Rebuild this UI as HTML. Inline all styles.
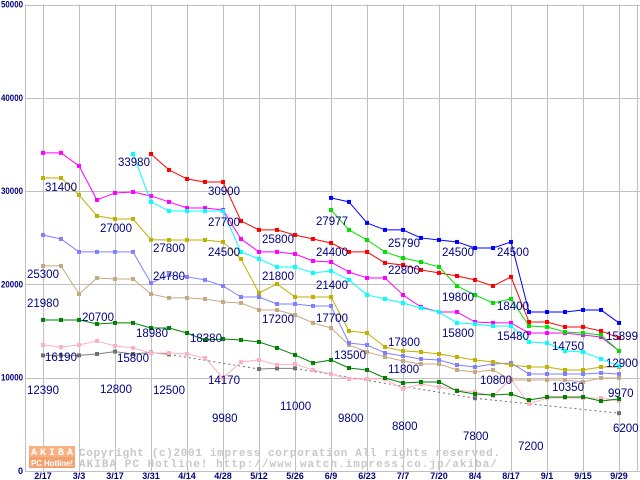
<!DOCTYPE html>
<html><head><meta charset="utf-8"><title>Price chart</title>
<style>
html,body{margin:0;padding:0;background:#fff;}
svg{display:block;font-family:"Liberation Sans",sans-serif;}
.lbl{font-size:11.5px;fill:#000080;}
.xt{font-size:9px;font-weight:bold;fill:#000080;font-family:"Liberation Sans",sans-serif;}
.yt{font-size:9px;font-weight:bold;fill:#000080;font-family:"Liberation Sans",sans-serif;}
</style></head>
<body>
<svg id="chart" width="640" height="480" viewBox="0 0 640 480" xmlns="http://www.w3.org/2000/svg">
<g id="grid"></g>
<g id="watermark">
  <rect x="29" y="446" width="46" height="11" fill="#f8b080"/>
  <rect x="29" y="457" width="46" height="11" fill="#f4a070"/>
  <text x="31" y="455" font-size="10" font-weight="bold" fill="#fff" textLength="42" font-family="Liberation Mono, monospace">AKIBA</text>
  <text x="31" y="466" font-size="8" font-weight="bold" fill="#fff" textLength="42">PC Hotline!</text>
  <text x="79" y="456" font-size="11" font-weight="bold" fill="#c8c8c8" textLength="421" font-family="Liberation Mono, monospace">Copyright (c)2001 impress corporation All rights reserved.</text>
  <text x="79" y="467" font-size="11" font-weight="bold" fill="#c8c8c8" textLength="418" font-family="Liberation Mono, monospace">AKIBA PC Hotline!  http://www.watch.impress.co.jp/akiba/</text>
</g>
<g id="series"></g>
<g id="labels">
<text class="lbl" x="118" y="166">33980</text>
<text class="lbl" x="45" y="191">31400</text>
<text class="lbl" x="100" y="232">27000</text>
<text class="lbl" x="153" y="252">27800</text>
<text class="lbl" x="208" y="195">30900</text>
<text class="lbl" x="208" y="226">27700</text>
<text class="lbl" x="153" y="280">24780</text>
<text class="lbl" x="208" y="256">24500</text>
<text class="lbl" x="27" y="278">25300</text>
<text class="lbl" x="27" y="307">21980</text>
<text class="lbl" x="82" y="321">20700</text>
<text class="lbl" x="136" y="337">18980</text>
<text class="lbl" x="190" y="342">18380</text>
<text class="lbl" x="45" y="361">16190</text>
<text class="lbl" x="117" y="362">15800</text>
<text class="lbl" x="27" y="394">12390</text>
<text class="lbl" x="100" y="393">12800</text>
<text class="lbl" x="153" y="394">12500</text>
<text class="lbl" x="208" y="384">14170</text>
<text class="lbl" x="212" y="422">9980</text>
<text class="lbl" x="262" y="243">25800</text>
<text class="lbl" x="262" y="280">21800</text>
<text class="lbl" x="262" y="323">17200</text>
<text class="lbl" x="280" y="410">11000</text>
<text class="lbl" x="316" y="225">27977</text>
<text class="lbl" x="316" y="256">24400</text>
<text class="lbl" x="316" y="289">21400</text>
<text class="lbl" x="316" y="322">17700</text>
<text class="lbl" x="334" y="359">13500</text>
<text class="lbl" x="338" y="422">9800</text>
<text class="lbl" x="388" y="247">25790</text>
<text class="lbl" x="388" y="274">22800</text>
<text class="lbl" x="388" y="346">17800</text>
<text class="lbl" x="388" y="373">11800</text>
<text class="lbl" x="392" y="430">8800</text>
<text class="lbl" x="442" y="256">24500</text>
<text class="lbl" x="442" y="301">19800</text>
<text class="lbl" x="442" y="337">15800</text>
<text class="lbl" x="463" y="440">7800</text>
<text class="lbl" x="480" y="384">10800</text>
<text class="lbl" x="497" y="256">24500</text>
<text class="lbl" x="497" y="310">18400</text>
<text class="lbl" x="497" y="340">15480</text>
<text class="lbl" x="518" y="450">7200</text>
<text class="lbl" x="552" y="350">14750</text>
<text class="lbl" x="552" y="391">10350</text>
<text class="lbl" x="606" y="340">15899</text>
<text class="lbl" x="606" y="367">12900</text>
<text class="lbl" x="608" y="397">9970</text>
<text class="lbl" x="613" y="432">6200</text>
</g>
</svg>
<script>
const categories = ["2/17","2/24","3/3","3/10","3/17","3/24","3/31","4/7","4/14","4/21","4/28","5/5","5/12","5/19","5/26","6/2","6/9","6/16","6/23","6/30","7/7","7/14","7/20","7/28","8/4","8/11","8/17","8/25","9/1","9/8","9/15","9/22","9/29"];
const yTicks = [0,10000,20000,30000,40000,50000];
const N = null;
const grayValues = [12390,12390,12390,12540,12800,12540,12700,12500,N,N,N,N,10930,11000,11000,N,N,N,N,N,N,N,N,N,7800,N,N,N,N,N,N,N,6200];
const pinkValues = [13510,13290,13510,13940,13400,13190,12650,12650,12540,12110,9970,11680,11900,11360,11470,10830,10400,9860,9860,9860,8790,9330,9000,8680,8470,8040,9860,7180,7830,7830,7830,7830,7500];
const darkGreenValues = [16190,16190,16190,15760,15870,15870,15330,15330,14790,14040,14150,14040,13830,13190,12440,11580,11900,11040,10830,9970,9430,9540,9540,8580,8250,8150,8250,7610,7930,7930,7930,7500,7720];
const tanValues = [21980,21980,18970,20690,20580,20580,18970,18550,18550,18440,18120,18010,17260,17260,16720,15870,15330,13510,12760,12220,11790,11470,11470,10830,10610,10830,9760,9760,9760,9760,9540,9970,9970];
const periwinkleValues = [25300,24870,23480,23480,23480,23480,20150,21010,20800,20480,19830,18650,18650,17900,17900,17690,17690,13720,13510,12650,12330,12010,11900,11360,11150,11470,11580,10400,10400,10400,10400,10510,10400];
const oliveValues = [31410,31410,29590,27340,27010,27010,24780,24760,24760,24760,24550,22730,19080,20050,18650,18650,18650,15010,14790,13290,12860,12760,12540,12220,11900,11680,11360,11150,11150,10830,10830,11150,11150];
const magentaValues = [34100,34100,32700,29050,29800,29900,29480,28840,28190,28190,27980,24870,23480,23480,23260,22510,22400,21330,20690,20690,18870,17580,17040,17040,15970,15870,15870,14790,14790,14790,14580,14360,12860];
const cyanValues = [N,N,N,N,N,33980,28840,27870,27870,27870,27870,23480,22730,21870,21870,21230,21440,20480,18870,18440,18010,17470,17040,15870,15760,15540,15540,13830,13720,12860,12760,12010,11260];
const redValues = [N,N,N,N,N,N,33980,32270,31300,30980,30980,26800,25840,25840,25300,24870,24440,23480,23480,22300,22080,21550,21230,20900,20480,19830,20800,15970,15970,15440,15440,15010,14260];
const greenValues = [N,N,N,N,N,N,N,N,N,N,N,N,N,N,N,N,27980,25840,24760,23480,22830,22400,21870,19830,18870,18010,18440,15540,15440,14900,14790,14580,12860];
const blueValues = [N,N,N,N,N,N,N,N,N,N,N,N,N,N,N,N,29270,28840,26590,25840,25840,24980,24760,24550,23900,23900,24550,17040,17040,17040,17260,17260,15870];

const NS = "http://www.w3.org/2000/svg";
function xPos(i){ return 43 + 18*i; }
function yPos(v){ return 471 - v*0.00933; }
function mk(tag, attrs, parent){
  const e = document.createElementNS(NS, tag);
  for (const k in attrs) e.setAttribute(k, attrs[k]);
  parent.appendChild(e);
  return e;
}
const grid = document.getElementById('grid');
yTicks.forEach(function(t){
  const ln = mk('line',{x1:25,x2:640,y1:Math.round(yPos(t))+0.5,y2:Math.round(yPos(t))+0.5,stroke:'#c0c0c0','stroke-width':1},grid);
  
  
  const s = String(t);
  const attrs = {x:23,y:yPos(t)+3,'text-anchor':'end','class':'yt'};
  if (s.length > 1) { attrs.textLength = 22; attrs.lengthAdjust = 'spacingAndGlyphs'; }
  const tx = mk('text',attrs,grid);
  tx.textContent = s;
  
  
});
const la = mk('line',{x1:25.5,x2:25.5,y1:yPos(50000),y2:yPos(0),stroke:'#c0c0c0','stroke-width':1},grid);


const rb = mk('line',{x1:637.5,x2:637.5,y1:yPos(50000),y2:yPos(0),stroke:'#c0c0c0','stroke-width':1},grid);


categories.forEach(function(c,i){
  if (i%2) return;
  const vl = mk('line',{x1:xPos(i)+0.5,x2:xPos(i)+0.5,y1:yPos(50000),y2:yPos(0),stroke:'#c0c0c0','stroke-width':1},grid);
  
  
  const tx = mk('text',{x:xPos(i),y:479,'text-anchor':'middle','class':'xt'},grid);
  tx.textContent = c;
  
  
});

const sg = document.getElementById('series');
function drawSeries(vals, color, name, markerColor){
  const g = mk('g',{},sg);
  
  
  let prev = -1;
  for (let i=0;i<vals.length;i++){
    if (vals[i]===null) continue;
    if (prev>=0){
      const gap = i-prev>1;
      const seg = mk('line',{x1:xPos(prev),y1:yPos(vals[prev]),x2:xPos(i),y2:yPos(vals[i]),stroke: gap?'#707070':color,'stroke-width':1,'stroke-dasharray':gap?'2,3':'none'},g);
      
      
    }
    prev = i;
  }
  for (let i=0;i<vals.length;i++){
    if (vals[i]===null) continue;
    const m = mk('rect',{x:xPos(i)-2,y:yPos(vals[i])-2,width:4,height:4,fill:markerColor||color},g);
    
    
  }
}
drawSeries(grayValues,'#808080','gray-series','#707070');
drawSeries(pinkValues,'#ffb0c0','pink-series');
drawSeries(darkGreenValues,'#008000','dark-green-series');
drawSeries(tanValues,'#c8a880','tan-series');
drawSeries(periwinkleValues,'#8080ff','periwinkle-series');
drawSeries(oliveValues,'#c0b000','olive-series');
drawSeries(magentaValues,'#ff00ff','magenta-series');
drawSeries(cyanValues,'#00ffff','cyan-series');
drawSeries(redValues,'#ff0000','red-series');
drawSeries(greenValues,'#00e000','green-series');
drawSeries(blueValues,'#0000ff','blue-series');
</script>
</body></html>
